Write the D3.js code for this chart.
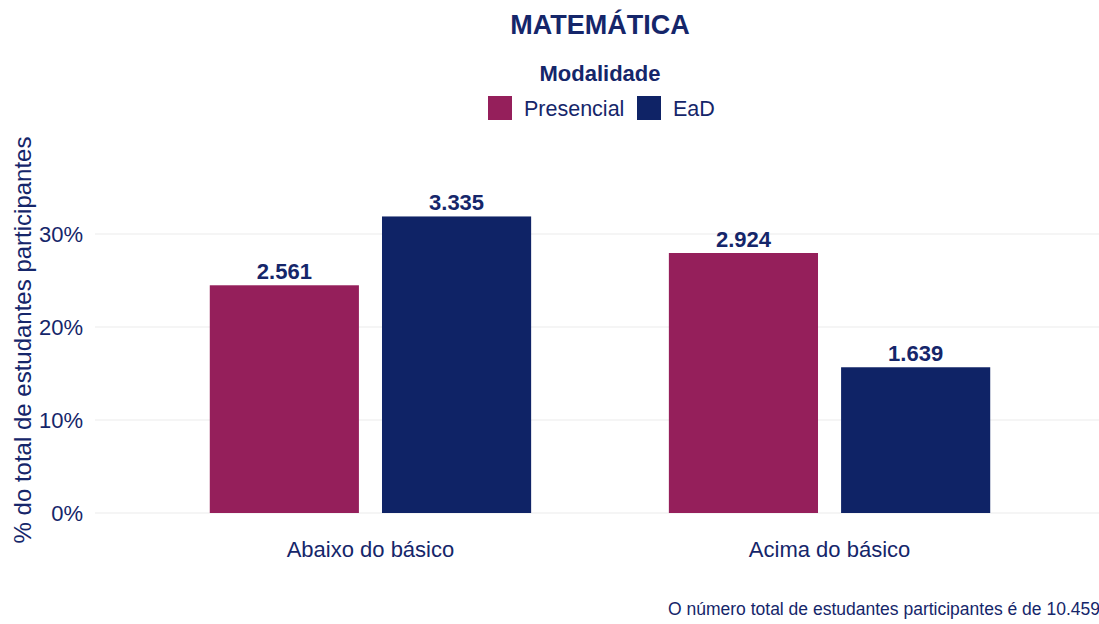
<html>
<head>
  <meta charset="utf-8">
  <script src="https://unpkg.com/d3@7/dist/d3.min.js"></script>
  <style>
    body { margin: 0; background: #fff; }
    text { font-family: "Liberation Sans", Arial, sans-serif; fill: #15266a; }
  </style>
</head>
<body>
  <svg id="container" width="1099" height="624"></svg>
</body>
<script>
  const categories = ['Abaixo do básico', 'Acima do básico'];
  const series = ['Presencial', 'EaD'];
  const presencial = [2561, 2924];
  const ead = [3335, 1639];
  const totalStudents = 10459;
  const yTicks = [0, 0.1, 0.2, 0.3];
  const colors = ['#951f5b', '#0f2366'];

  const rows = [];
  categories.forEach((c, i) => {
    rows.push({cat: c, serie: 'Presencial', n: presencial[i]});
    rows.push({cat: c, serie: 'EaD', n: ead[i]});
  });

  const pt = d3.formatLocale({decimal: ',', thousands: '.', grouping: [3], currency: ['R$', '']});
  const fmtN = pt.format(',d');

  const svg = d3.select('#container');
  const left = 95, right = 1105, bottom = 513;

  const x = d3.scaleBand()
    .domain(categories)
    .range([left, right])
    .paddingInner(0.3)
    .paddingOuter(0.25);

  const xSub = d3.scaleBand()
    .domain(series)
    .range([0, x.bandwidth()])
    .paddingInner(0.134);

  const y = d3.scaleLinear()
    .domain([0, 0.35])
    .range([bottom, bottom - 0.35 * 930]);

  const color = d3.scaleOrdinal().domain(series).range(colors);

  // grid
  svg.append('g')
    .selectAll('line')
    .data(yTicks)
    .enter().append('line')
    .attr('x1', left).attr('x2', 1099)
    .attr('y1', d => y(d)).attr('y2', d => y(d))
    .attr('stroke', '#ebebeb').attr('stroke-width', 1);

  // y axis
  const yAxis = svg.append('g')
    .attr('transform', `translate(${left}, 0)`)
    .call(d3.axisLeft(y).tickValues(yTicks).tickFormat(d3.format('.0%')).tickSize(0).tickPadding(12));
  yAxis.select('.domain').remove();
  yAxis.selectAll('text').style('font-size', '22px').attr('fill', '#15266a');

  // x axis
  const xAxis = svg.append('g')
    .attr('transform', `translate(0, ${bottom})`)
    .call(d3.axisBottom(x).tickSize(0).tickPadding(28));
  xAxis.select('.domain').remove();
  xAxis.selectAll('text').style('font-size', '22px').attr('fill', '#15266a');

  // bars
  const bars = svg.append('g')
    .selectAll('g')
    .data(rows)
    .enter().append('g');

  bars.append('rect')
    .attr('x', d => x(d.cat) + xSub(d.serie))
    .attr('y', d => y(d.n / totalStudents))
    .attr('width', xSub.bandwidth())
    .attr('height', d => bottom - y(d.n / totalStudents))
    .attr('fill', d => color(d.serie));

  bars.append('text')
    .attr('x', d => x(d.cat) + xSub(d.serie) + xSub.bandwidth() / 2)
    .attr('y', d => y(d.n / totalStudents) - 6)
    .attr('text-anchor', 'middle')
    .style('font-size', '22px')
    .style('font-weight', 'bold')
    .text(d => fmtN(d.n));

  // title
  svg.append('text')
    .attr('x', 600).attr('y', 34)
    .attr('text-anchor', 'middle')
    .style('font-size', '27px').style('font-weight', 'bold')
    .text('MATEMÁTICA');

  // legend
  svg.append('text')
    .attr('x', 600).attr('y', 81)
    .attr('text-anchor', 'middle')
    .style('font-size', '22px').style('font-weight', 'bold')
    .text('Modalidade');

  const legendX = [488, 637];
  const leg = svg.append('g')
    .selectAll('g')
    .data(series)
    .enter().append('g')
    .attr('transform', (d, i) => `translate(${legendX[i]}, 96)`);
  leg.append('rect')
    .attr('width', 24).attr('height', 24)
    .attr('fill', d => color(d));
  leg.append('text')
    .attr('x', 36).attr('y', 20)
    .style('font-size', '21.5px')
    .text(d => d);

  // y title
  svg.append('text')
    .attr('transform', 'translate(31, 340) rotate(-90)')
    .attr('text-anchor', 'middle')
    .style('font-size', '24px')
    .text('% do total de estudantes participantes');

  // caption
  svg.append('text')
    .attr('x', 668).attr('y', 615)
    .style('font-size', '17.5px')
    .text('O número total de estudantes participantes é de ' + fmtN(totalStudents) + '.');
</script>
</html>
